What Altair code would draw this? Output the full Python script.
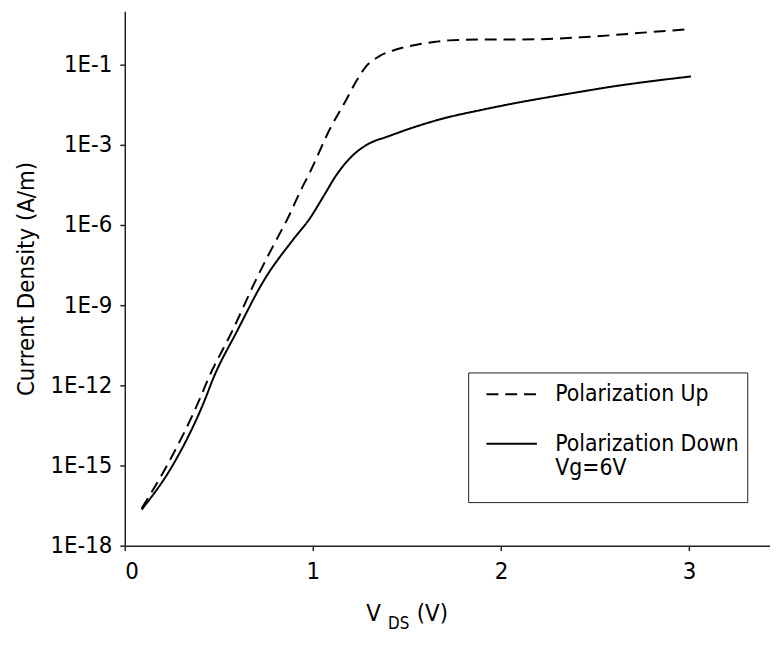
import altair as alt
import pandas as pd

# ---- data ----
vds_up = [0.09, 0.23, 0.398, 0.442, 0.574, 0.696, 0.81, 0.863, 0.933, 0.986,
          1.091, 1.179, 1.232, 1.284, 1.354, 1.442, 1.547, 1.653, 1.723, 1.898,
          2.074, 2.249, 2.425, 2.6, 2.775, 3.0]
log_j_up = [-16.6, -14.93, -12.52, -11.78, -9.93, -8.07, -6.5, -5.8, -4.74, -4.0,
            -2.40, -1.29, -0.60, -0.05, 0.32, 0.567, 0.74, 0.86, 0.91, 0.94,
            0.94, 0.963, 1.025, 1.11, 1.21, 1.33]

vds_down = [0.09, 0.26, 0.427, 0.468, 0.6, 0.74, 0.9, 0.986, 1.056, 1.126,
            1.214, 1.284, 1.337, 1.372, 1.512, 1.653, 1.723, 1.898, 2.074, 2.249,
            2.425, 2.6, 2.775, 3.01]
log_j_down = [-16.65, -14.93, -12.52, -11.78, -9.93, -8.07, -6.5, -5.73, -4.93, -4.12,
              -3.38, -3.01, -2.83, -2.75, -2.40, -2.09, -1.96, -1.69, -1.44, -1.22,
              -1.01, -0.81, -0.64, -0.44]

series_names = ["Polarization Up", "Polarization Down"]
legend_note = "Vg=6V"

y_tick_values = [1e-18, 1e-15, 1e-12, 1e-9, 1e-6, 1e-3, 1e0]
y_tick_labels = ["1E-18", "1E-15", "1E-12", "1E-9", "1E-6", "1E-3", "1E-1"]
x_tick_values = [0, 1, 2, 3]

# ---- table ----
rows = []
for v, lj in zip(vds_up, log_j_up):
    rows.append({"vds": v, "j": 10 ** lj, "series": series_names[0]})
for v, lj in zip(vds_down, log_j_down):
    rows.append({"vds": v, "j": 10 ** lj, "series": series_names[1]})
df = pd.DataFrame(rows)

label_expr = "''"
for val, lab in zip(y_tick_values, y_tick_labels):
    label_expr = f"abs(datum.value / {val:g} - 1) < 0.01 ? '{lab}' : ({label_expr})"

legend_label_expr = (f"datum.label == '{series_names[1]}' ? "
                     f"['{series_names[1]}', '{legend_note}'] : datum.label")

FONT = "DejaVu Sans Condensed"
FS = 24
W, H = 652, 540

lines = alt.Chart(df).mark_line(strokeWidth=2, color="black", interpolate="monotone").encode(
    x=alt.X("vds:Q", scale=alt.Scale(domain=[0, 3.43], nice=False),
            axis=alt.Axis(values=x_tick_values, format="d", title=None, labelPadding=9)),
    y=alt.Y("j:Q", scale=alt.Scale(type="log", domain=[1e-18, 1e2], nice=False),
            axis=alt.Axis(values=y_tick_values, labelExpr=label_expr,
                          title="Current Density (A/m)", titlePadding=12, labelPadding=8)),
    strokeDash=alt.StrokeDash(
        "series:N",
        scale=alt.Scale(domain=series_names, range=[[12, 7], [1, 0]]),
        legend=alt.Legend(
            orient="none", legendX=347, legendY=365,
            title=" ", titleOrient="bottom", titleFontSize=8, titlePadding=6,
            labelExpr=legend_label_expr,
            symbolType="M-2,0L2,0", symbolSize=650, symbolStrokeWidth=2,
            symbolStrokeColor="black", symbolOffset=22, labelFontSize=23, labelOffset=30,
            labelLimit=400, rowPadding=24, padding=8,
            strokeColor="#222", fillColor="white",
        ),
    ),
)

def title_part(txt, x, y, size):
    return alt.Chart(pd.DataFrame({"k": [0]})).mark_text(
        align="left", baseline="alphabetic", fontSize=size, color="black", font=FONT
    ).encode(text=alt.value(txt), x=alt.value(x), y=alt.value(y))

xtitle = title_part("V", 244, 616, FS) + title_part("DS", 266, 624, 17) + title_part("(V)", 295, 616, FS)

chart = (lines + xtitle).properties(width=W, height=H).configure(
    font=FONT
).configure_view(stroke=None).configure_axis(
    grid=False, domainColor="#222", domainWidth=1.5, tickColor="#222", tickWidth=1.5,
    tickSize=5, labelFontSize=FS, labelColor="black", titleFontSize=FS,
    titleFontWeight="normal", titleColor="black", labelFont=FONT, titleFont=FONT
).configure_legend(labelFont=FONT, titleFont=FONT, labelColor="black", titleColor="black"
).properties(padding={"left": 6, "top": 0, "right": 0, "bottom": 0})

chart.save("out.html", embed_options={"renderer": "svg", "actions": False})
